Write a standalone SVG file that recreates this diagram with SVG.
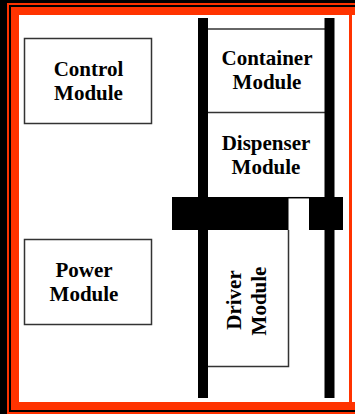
<svg xmlns="http://www.w3.org/2000/svg" width="355" height="414" viewBox="0 0 355 414">
<style>
.box{fill:#fff;stroke:#333;stroke-width:1.5}
.ln{stroke:#333;stroke-width:1.5;fill:none}
.bar{fill:#000}
.t{font-family:"Liberation Serif","Times New Roman",serif;font-weight:bold;font-size:21px;fill:#000;text-anchor:middle}
</style>
<g id="frame">
<rect x="0" y="0" width="355" height="414" fill="#000"/>
<rect x="7" y="3" width="348" height="411" fill="#ff3300"/>
<rect x="9" y="5" width="346" height="407" fill="#000"/>
<rect x="11" y="7" width="344" height="403" fill="#ff3300"/>
<rect x="19" y="15" width="330" height="387" fill="#fff"/>
<rect x="352" y="15" width="3" height="387" fill="#fff"/>
</g>
<g id="control">
<rect class="box" x="24.5" y="38.5" width="127" height="85"/>
<text class="t" x="88.5" y="76">Control</text>
<text class="t" x="88.5" y="99.5">Module</text>
</g>
<g id="power">
<rect class="box" x="24.5" y="239.5" width="127" height="85"/>
<text class="t" x="84" y="277">Power</text>
<text class="t" x="84" y="301">Module</text>
</g>
<g id="container">
<line class="ln" x1="208" y1="29" x2="325" y2="29"/>
<text class="t" x="267" y="65">Container</text>
<text class="t" x="267" y="89">Module</text>
</g>
<g id="dispenser">
<line class="ln" x1="208" y1="112.5" x2="325" y2="112.5"/>
<text class="t" x="266" y="150">Dispenser</text>
<text class="t" x="266" y="173.5">Module</text>
</g>
<g id="driver">
<polyline class="ln" points="288.5,230 288.5,366.5 208,366.5"/>
<text class="t" transform="translate(241,300) rotate(-90)" x="0" y="0">Driver</text>
<text class="t" transform="translate(266,301) rotate(-90)" x="0" y="0">Module</text>
</g>
<g id="connectors">
<rect class="bar" x="198" y="18" width="10" height="380"/>
<rect class="bar" x="324.5" y="18" width="10" height="380"/>
<rect class="bar" x="172" y="197" width="116.5" height="33"/>
<rect class="bar" x="309" y="197" width="34" height="33"/>
<line x1="288" y1="197.7" x2="309" y2="197.7" stroke="#000" stroke-width="1.5"/>
</g>
</svg>
